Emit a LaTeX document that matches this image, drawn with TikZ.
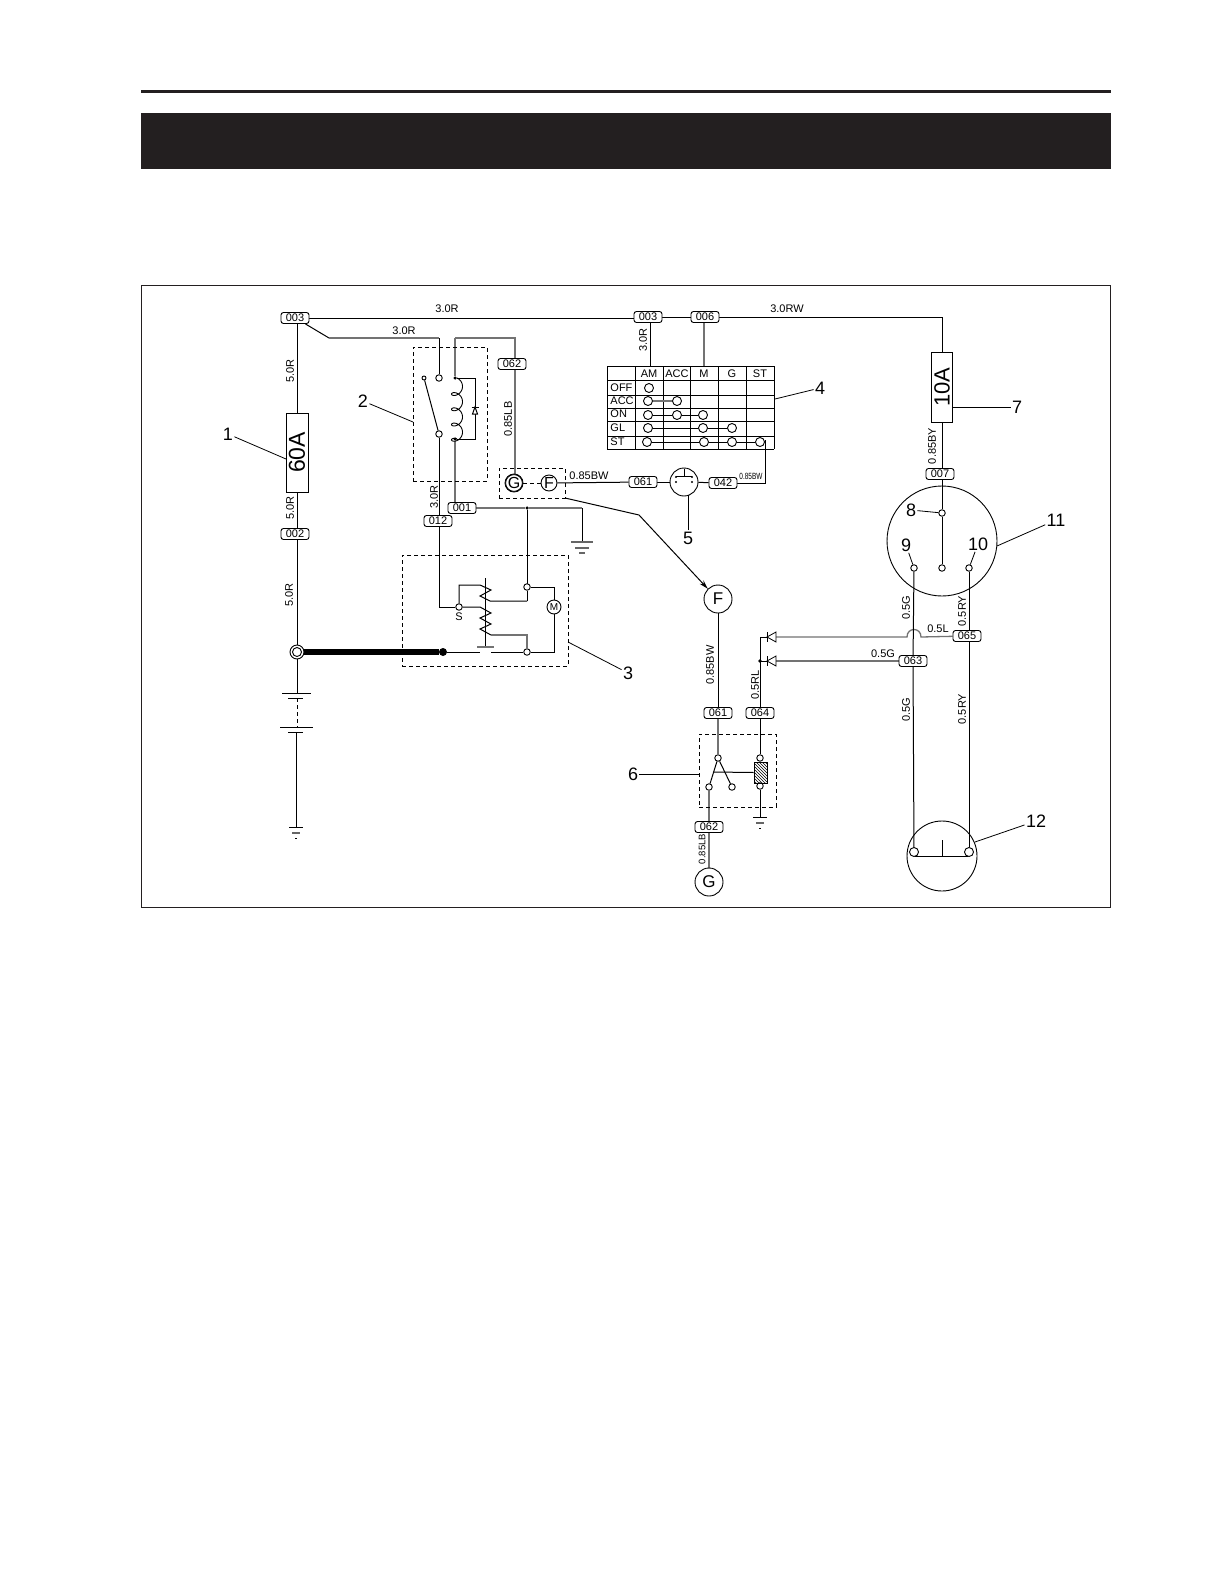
\documentclass[tikz,border=0pt]{standalone}
\usepackage{fontspec}
\setmainfont{Liberation Sans}
\usetikzlibrary{arrows.meta,patterns}
\pgfdeclarelayer{wires}
\pgfsetlayers{wires,main}
\newcommand{\fs}[1]{\fontsize{#1}{#1}\selectfont}
\definecolor{inkbar}{HTML}{231F20}
\tikzset{
  x=1pt,y=-1pt,
  every path/.style={line width=0.9pt},
  wire/.style={draw=black,line width=1pt},
  gw/.style={draw=black!55,line width=1.3pt},
  thin wire/.style={draw=black,line width=0.8pt},
  tag/.style={draw,fill=white,rounded corners=2.5pt,minimum width=28pt,minimum height=11pt,inner sep=0pt,font=\fs{11}},
  lbl/.style={inner sep=0.5pt,font=\fs{11}},
  vlbl/.style={lbl,rotate=90},
  num/.style={inner sep=1pt,font=\fs{18}},
  cont/.style={circle,draw,fill=white,minimum size=6.5pt,inner sep=0pt},
  tcirc/.style={circle,draw,fill=white,minimum size=9pt,inner sep=0pt},
  dot/.style={circle,fill=black,minimum size=3.5pt,inner sep=0pt},
  dbox/.style={draw,dash pattern=on 4pt off 3pt,line width=0.9pt,inner sep=0pt},
  fuse/.style={draw,fill=white,inner sep=0pt},
  fusetxt/.style={rotate=90,inner sep=0pt},
  bigc/.style={circle,draw,fill=white,minimum size=28pt,inner sep=0pt,font=\fs{17}},
  leader/.style={draw=black,line width=0.8pt},
  gnd/.style={draw=black,line width=1pt},
  thead/.style={inner sep=0pt,font=\fs{11}},
}
\begin{document}
\begin{tikzpicture}
\useasboundingbox (0,0) rectangle (1224,1584);
% page furniture
\begin{pgfonlayer}{wires}
\fill[white] (0,0) rectangle (1224,1584);
\draw[draw=inkbar,line width=3pt] (141,91.5) -- (1111,91.5);
\fill[inkbar] (141,113) rectangle (1111,169);
\draw[draw=inkbar,line width=0.8pt] (141.5,285.5) rectangle (1110.5,907.5);
\end{pgfonlayer}

% tags
\node[tag] (t003a) at (295,318) {003};
\node[tag] (t003b) at (648,317) {003};
\node[tag] (t006) at (705,317) {006};
\node[tag] (t062a) at (512,364) {062};
\node[tag] (t001) at (462,508) {001};
\node[tag] (t012) at (438,521) {012};
\node[tag] (t002) at (295,534) {002};
\node[tag] (t061a) at (643,482) {061};
\node[tag] (t042) at (723,483) {042};
\node[tag] (t007) at (940,474) {007};
\node[tag] (t065) at (967,636) {065};
\node[tag] (t063) at (913,661) {063};
\node[tag] (t061b) at (718,713) {061};
\node[tag] (t064) at (760,713) {064};
\node[tag] (t062b) at (709,827) {062};

% fuses
\node[fuse,minimum width=22pt,minimum height=79pt] (f60) at (297,452.5) {};
\node[fusetxt,font=\fs{23}] at (f60) {60A};
\node[fuse,minimum width=21pt,minimum height=70pt] (f10) at (942,387) {};
\node[fusetxt,font=\fs{22}] at (f10) {10A};

% dashed boxes
\node[dbox,minimum width=74pt,minimum height=134pt] (box2) at (450,414) {};
\node[dbox,minimum width=166pt,minimum height=111pt] (box3) at (485,610.5) {};
\node[dbox,minimum width=66pt,minimum height=30pt] (boxGF) at (532,483) {};
\node[dbox,minimum width=77pt,minimum height=73pt] (box6) at (737.5,770.5) {};

% relay contacts
\node[cont] (r1) at (439,378) {};
\node[cont] (r2) at (439,434) {};
\node[cont,minimum size=4pt] (r3) at (424,378) {};
\node[dot] (c1) at (455,378) {};
\node[dot] (c2) at (455,439) {};
\draw[wire] (r3) -- (r2);
\draw[line width=0.9pt] plot[domain=0:1440,samples=161,smooth] ({457+5.5*sin(\x)},{378+0.04236*\x+4.6-4.6*cos(\x)});

% GF block
\node[circle,draw,minimum size=18pt,inner sep=0pt,fill=white] (G1) at (514,483) {};
\node[circle,draw,fill=white,minimum size=15pt,inner sep=0pt,font=\fs{16}] (G1i) at (514,483) {G};
\node[circle,draw,fill=white,minimum size=16pt,inner sep=0pt,font=\fs{16}] (F1) at (549,483) {F};

% table
\foreach \xx in {607,635,663,690,718,746,774} \draw[thin wire] (\xx,366) -- (\xx,449);
\foreach \yy in {366,380,395,408,421,436,449} \draw[thin wire] (607,\yy) -- (774,\yy);
\foreach \xx/\tt in {649/AM,677/ACC,704/M,732/G,760/ST} \node[thead] at (\xx,373.5) {\tt};
\foreach \yy/\tt in {388/OFF,401/ACC,414/ON,428/GL,442/ST} \node[thead,anchor=west] at (610,\yy) {\tt};
\node[tcirc] (o1) at (649,388) {};
\node[tcirc] (a1) at (648,401) {};
\node[tcirc] (a2) at (677,401) {};
\node[tcirc] (n1) at (648,415) {};
\node[tcirc] (n2) at (677,415) {};
\node[tcirc] (n3) at (703,415) {};
\node[tcirc] (g1) at (648,428) {};
\node[tcirc] (g2) at (703,428) {};
\node[tcirc] (g3) at (732,428) {};
\node[tcirc] (s1) at (647,442) {};
\node[tcirc] (s2) at (704,442) {};
\node[tcirc] (s3) at (732,442) {};
\node[tcirc] (s4) at (760,442) {};
\draw[gw] (a1) -- (a2);
\draw[wire] (n1) -- (n2);
\draw[wire] (n2) -- (n3);
\draw[wire] (g1) -- (g2);
\draw[wire] (g2) -- (g3);
\draw[wire] (s1) -- (s2);
\draw[wire] (s2) -- (s3);
\draw[wire] (s3) -- (s4);

% connector 5
\node[circle,draw,fill=white,minimum size=28pt,inner sep=0pt] (k5) at (684,482) {};
\draw[line width=0.7pt] (684,469) -- (684,476);
\draw[line width=0.7pt] (676,476) -- (692,476);
\foreach \xx/\yy in {676/477,692/477,676/482,692/482} \fill (\xx,\yy) circle[radius=1.2pt];

% starter
\node[cont] (S) at (459,607) {};
\node[lbl] at (459,617) {S};
\node[cont] (m1) at (527,587) {};
\node[cont] (m2) at (527,652) {};
\node[circle,draw,fill=white,minimum size=14pt,inner sep=0pt,font=\fs{10}] (M) at (554,607) {M};
\node[circle,fill=black,minimum size=8pt,inner sep=0pt] (bolt2) at (443,652) {};
\node[circle,draw,fill=white,minimum size=14pt,inner sep=0pt] (bolt1) at (297,652) {};
\draw (bolt1) circle[radius=4.5pt];
\node[dot] (j001) at (527,508) {};
\coordinate (g001) at (582,542);

% big F / G
\node[bigc] (F2) at (718,599) {F};
\node[bigc] (G2) at (709,882) {G};

% switch 6
\node[cont] (w1) at (718,758) {};
\node[cont] (w2) at (709,787) {};
\node[cont] (w3) at (732,787) {};
\node[cont] (w4) at (760,758) {};
\node[cont] (w5) at (760,786) {};
\node[draw,pattern=north west lines,minimum width=13pt,minimum height=21pt,inner sep=0pt] (hatch) at (760.5,772.5) {};
\draw[wire] (w1) -- (w2);
\draw[wire] (w1) -- (w3);

% main wires
\begin{pgfonlayer}{wires}
\coordinate (k1) at (329,338);
\coordinate (k2) at (439,338);
\coordinate (k3) at (455,338);
\coordinate (k4) at (515,338);
% top run
\draw[wire] (t003a) -- (t003a -| t003b.west);
\draw[wire] (t003b) -- (t006);
\draw[wire] (650,317) -- (650,366);
\draw[gw] (704,317) -- (704,366);
\draw[wire] (t006) -- (942,317) -- (f10.north);
% 003 branch
\draw[wire] (t003a.south east) ++(-4,0) -- (k1);
\draw[gw] (k1) -- (k2);
\draw[wire] (k2) -- (r1);
\draw[gw] (k3) -- (k4) -- (k4 |- G1.north);
\draw[gw] (k3) -- (c1);
\draw[wire] (c1) -- (475,378) -- (475,439) -- (c2);
\draw[wire] (475,407) ++(-3.5,0) -- +(7,0);
\draw[wire,fill=white] (475,407) -- (472.5,414) -- (477.5,414) -- cycle;
\draw[gw] (c2) -- (455,503);
\draw[wire] (r2) -- (r2 |- t012.north);
% left column
\draw[wire] (t003a -| f60) -- (f60.north);
\draw[wire] (f60.south) -- (f60 |- t002.north);
\draw[wire] (f60 |- t002.south) -- (bolt1);
\draw[wire] (bolt1) -- (297,693);
% battery
\draw[wire] (282,693.5) -- (311,693.5);
\draw[wire] (288,698) -- (303,698);
\draw[wire,dash pattern=on 4pt off 3pt] (297,698) -- (297,727);
\draw[wire] (280,727) -- (313,727);
\draw[wire] (288,732) -- (303,732);
\draw[wire] (296,732) -- (296,827);
\draw[gnd] (289,827) -- (303,827);
\draw[draw=black!60,line width=1.2pt] (292,833) -- (300,833);
\draw[gnd] (295,838) -- (297,838);
% thick bus
\draw[line width=6.5pt] (bolt1) -- (bolt2);
\draw[wire] (bolt2) -- (480,652);
\draw[wire] (491,652) -- (m2);
\draw[wire] (m2) -- (554,652) -- (M);
\draw[wire] (M) -- (554,587) -- (m1);
% solenoid
\draw[wire] (t012 -| r2) ++(0,5) -- (439,607) -- (S);
\draw[wire] (S) -- (459,585) -- (480,585) -- (491,590) -- (480,596) -- (490,601) -- (527,601);
\draw[wire] (527,601) -- (m1);
\draw[wire] (S) -- (480,607) -- (491,613) -- (480,618) -- (491,624) -- (480,629) -- (491,635);
\draw[gw] (491,635) -- (527,635) -- (m2);
\draw[wire] (485,578) -- (485,647);
\draw[gw] (477,647) -- (494,647);
% 001
\draw[gw] (t001) -- (j001);
\draw[wire] (j001) -- (j001 |- m1);
\draw[gw] (j001) -- (582,508);
\draw[wire] (582,508) -- (g001);
\draw[draw=black!60,line width=1.3pt] (571,542) -- (593,542);
\draw[draw=black!60,line width=1.3pt] (575,548) -- (589,548);
\draw[draw=black!60,line width=1.3pt] (579,553) -- (585,553);
% GF to connector
\draw[wire,dash pattern=on 4pt off 3pt] (G1) -- (F1);
\draw[wire] (F1) -- (t061a);
\draw[wire] (t061a) -- (k5);
\draw[wire] (k5) -- (t042);
\draw[wire] (t042) -- (765,483) -- (765,446);
\draw[wire] (s4.east) ++(0,-2) -- (765,440) -- (765,446);
% arrow to F
\coordinate (ar1) at (565,498);
\coordinate (ar2) at (639,515);
\draw[wire,-{Stealth[length=9pt,width=5pt]}] (ar1) -- (ar2) -- (F2.north west);
% F down
\draw[wire] (F2) -- (t061b);
\draw[gw] (t061b) -- (w1);
\draw[gw] (w2) -- (t062b);
\draw[gw] (t062b) -- (G2);
% relay 6
\draw[wire] (t064) -- (w4);
\draw[wire] (w5) -- (760,817);
\draw[gnd] (753,817) -- (767,817);
\draw[draw=black!60,line width=1.2pt] (756,823) -- (764,823);
\draw[gnd] (759,828) -- (761,828);
\draw[wire] (713,772) -- (hatch.west);
% diodes
\draw[wire] (t064) -- (760,637) -- (767,637);
\draw[wire] (760,661) -- (767,661);
\draw[gw] (776,637) -- (907,637) .. controls (907,627) and (921,627) .. (921,637) -- (t065);
\draw[gw] (776,661) -- (t063);
% circle 11, wires
\draw[wire] (f10.south) -- (t007 -| f10);
\end{pgfonlayer}
\fill[black] (760,661) circle[radius=1.8pt];
\draw[fill=white,line width=0.8pt] (767,637) -- (776,632) -- (776,642) -- cycle;
\draw[fill=white,line width=0.8pt] (767,661) -- (776,656) -- (776,666) -- cycle;
\draw[line width=1pt] (767,632) -- (767,642);
\draw[line width=1pt] (767,656) -- (767,666);

% circle 11
\node[circle,draw,minimum size=110pt,inner sep=0pt] (c11) at (942,541) {};
\node[cont] (p8) at (942,513) {};
\node[cont] (pm) at (942,568) {};
\node[cont] (p9) at (914,568) {};
\node[cont] (p10) at (969,568) {};
\draw[wire] (942,480) -- (p8);
\draw[wire] (p8) -- (pm);
% circle 12
\node[circle,draw,minimum size=70pt,inner sep=0pt] (c12) at (942,856) {};
\node[tcirc] (q1) at (914,852) {};
\node[tcirc] (q2) at (969,852) {};
\draw[wire] (915,856) -- (968,856);
\draw[wire] (942,840) -- (942,856);
\draw[wire] (p9) -- (t063);
\draw[wire] (t063) -- (q1);
\draw[wire] (p10) -- (p10 |- t065.north);
\draw[wire] (p10 |- t065.south) -- (q2);

% wire labels
\node[lbl] at (447,309) {3.0R};
\node[lbl] at (404,331) {3.0R};
\node[lbl] at (787,309) {3.0RW};
\node[lbl] at (589,476) {0.85BW};
\node[lbl,font=\fs{9},xscale=.72] at (751,476) {0.85BW};
\node[lbl] at (938,629) {0.5L};
\node[lbl] at (883,654) {0.5G};
\node[vlbl] at (290,371) {5.0R};
\node[vlbl] at (290,508) {5.0R};
\node[vlbl] at (289,595) {5.0R};
\node[vlbl] at (434,497) {3.0R};
\node[vlbl] at (643,340) {3.0R};
\node[vlbl] at (508,419) {0.85LB};
\node[vlbl] at (932,446) {0.85BY};
\node[vlbl] at (710,665) {0.85BW};
\node[vlbl] at (755,685) {0.5RL};
\node[vlbl,font=\fs{9.5}] at (702,849) {0.85LB};
\node[vlbl] at (906,608) {0.5G};
\node[vlbl] at (962,611) {0.5RY};
\node[vlbl] at (906,710) {0.5G};
\node[vlbl] at (962,709) {0.5RY};

% numbered labels and leaders
\node[num] (L1) at (228,434) {1};
\coordinate (e1) at (286,459);
\draw[leader] (L1) -- (e1);
\node[num] (L2) at (363,401) {2};
\coordinate (e2) at (413,422);
\draw[leader] (L2) -- (e2);
\node[num] (L3) at (628,673) {3};
\coordinate (e3) at (568,642);
\draw[leader] (L3) -- (e3);
\node[num] (L4) at (820,388) {4};
\coordinate (e4) at (775,399);
\draw[leader] (L4) -- (e4);
\node[num] (L5) at (688,538) {5};
\coordinate (e5) at (688,495);
\draw[leader] (L5) -- (e5);
\node[num] (L6) at (633,774) {6};
\coordinate (e6) at (699,774);
\draw[leader] (L6) -- (e6);
\node[num] (L7) at (1017,407) {7};
\coordinate (e7) at (952.5,407);
\draw[leader] (L7) -- (e7);
\node[num] (L8) at (911,510) {8};
\draw[leader] (L8) -- (p8);
\node[num] (L9) at (906,545) {9};
\draw[leader] (L9) -- (p9);
\node[num] (L10) at (978,544) {10};
\draw[leader] (L10) -- (p10);
\node[num] (L11) at (1056,520) {11};
\coordinate (e11) at (997,546);
\draw[leader] (L11) -- (e11);
\node[num] (L12) at (1036,821) {12};
\coordinate (e12) at (975,842);
\draw[leader] (L12) -- (e12);
\end{tikzpicture}
\end{document}
